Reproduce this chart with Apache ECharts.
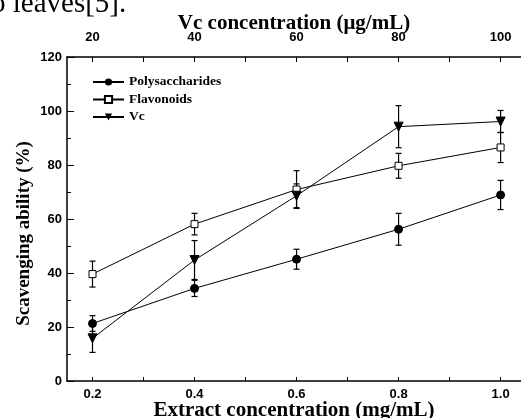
<!DOCTYPE html>
<html>
<head>
<meta charset="utf-8">
<script src="https://cdn.jsdelivr.net/npm/echarts@6/dist/echarts.min.js"></script>
<style>
html, body { margin: 0; padding: 0; background: #fff; }
#chart { width: 521px; height: 418px; }
</style>
</head>
<body>
<div id="chart"></div>
<script>
// values
var extractConc = [0.2, 0.4, 0.6, 0.8, 1.0];
var extractTicks = [0.2, 0.3, 0.4, 0.5, 0.6, 0.7, 0.8, 0.9, 1.0];
var vcConcLabels = [20, 40, 60, 80, 100];
var vcConcTicks = [20, 30, 40, 50, 60, 70, 80, 90, 100];

var polysaccharides = [21.3, 34.3, 45.1, 56.2, 68.9];
var polysaccharidesErr = [2.9, 3.0, 3.7, 5.9, 5.4];
var flavonoids = [39.6, 58.1, 70.9, 79.7, 86.5];
var flavonoidsErr = [4.8, 4.0, 7.0, 4.6, 5.6];
var vc = [15.8, 44.8, 68.6, 94.2, 96.1];
var vcErr = [5.2, 7.2, 4.4, 7.8, 4.1];

var serif = '"Liberation Serif", "Times New Roman", serif';
var sans = '"Liberation Sans", Arial, sans-serif';

function pairs(ys) {
    return extractConc.map(function (x, i) { return [x, ys[i]]; });
}
function errData(ys, es) {
    return extractConc.map(function (x, i) { return [x, ys[i], es[i]]; });
}
function errRender(params, api) {
    var x = api.value(0), y = api.value(1), e = api.value(2);
    var top = api.coord([x, y + e]);
    var bot = api.coord([x, y - e]);
    var st = { stroke: '#000', lineWidth: 1.2 };
    return {
        type: 'group',
        children: [
            { type: 'line', shape: { x1: top[0], y1: top[1], x2: bot[0], y2: bot[1] }, style: st },
            { type: 'line', shape: { x1: top[0] - 3, y1: top[1], x2: top[0] + 3, y2: top[1] }, style: st },
            { type: 'line', shape: { x1: bot[0] - 3, y1: bot[1], x2: bot[0] + 3, y2: bot[1] }, style: st }
        ]
    };
}
function errSeries(ys, es) {
    return {
        type: 'custom',
        xAxisIndex: 0,
        renderItem: errRender,
        data: errData(ys, es),
        silent: true,
        z: 1
    };
}

var myChart = echarts.init(document.getElementById('chart'));
var option = {
    animation: false,
    backgroundColor: '#fff',
    graphic: [{
        type: 'text',
        left: -9,
        top: -10,
        style: { text: 'o leaves[5].', font: '29px ' + serif, fill: '#000' }
    }],
    grid: { left: 67, right: 0, top: 57, bottom: 37, outerBoundsMode: 'none' },
    legend: {
        orient: 'vertical',
        left: 87,
        top: 70,
        itemWidth: 31,
        itemHeight: 9,
        itemGap: 3.5,
        data: ['Polysaccharides', 'Flavonoids', 'Vc'],
        textStyle: { fontFamily: serif, fontWeight: 'bold', fontSize: 13.5, color: '#000' }
    },
    xAxis: [{
        type: 'value',
        position: 'bottom',
        min: 0.15,
        max: 1.04,
        name: 'Extract concentration (mg/mL)',
        nameLocation: 'middle',
        nameGap: 19,
        nameMoveOverlap: false,
        nameTextStyle: { fontFamily: serif, fontWeight: 'bold', fontSize: 21, color: '#000' },
        axisLine: { lineStyle: { color: '#000', width: 1.5 } },
        axisTick: { inside: true, length: 4, customValues: extractTicks, lineStyle: { color: '#000' } },
        axisLabel: {
            customValues: extractConc,
            margin: 7,
            formatter: function (v) { return v.toFixed(1); },
            fontFamily: sans, fontWeight: 'bold', fontSize: 13, color: '#000'
        },
        splitLine: { show: false }
    }, {
        type: 'value',
        position: 'top',
        min: 15,
        max: 104,
        name: 'Vc concentration (μg/mL)',
        nameLocation: 'middle',
        nameGap: 23,
        nameMoveOverlap: false,
        nameTextStyle: { fontFamily: serif, fontWeight: 'bold', fontSize: 21, color: '#000' },
        axisLine: { lineStyle: { color: '#000', width: 1.5 } },
        axisTick: { inside: true, length: 5, customValues: vcConcTicks, lineStyle: { color: '#000' } },
        axisLabel: {
            customValues: vcConcLabels,
            margin: 13,
            fontFamily: sans, fontWeight: 'bold', fontSize: 13, color: '#000'
        },
        splitLine: { show: false }
    }],
    yAxis: {
        type: 'value',
        min: 0,
        max: 120,
        interval: 20,
        name: 'Scavenging ability (%)',
        nameLocation: 'middle',
        nameGap: 33,
        nameMoveOverlap: false,
        nameTextStyle: { fontFamily: serif, fontWeight: 'bold', fontSize: 19, color: '#000', padding: [0, 29, 0, 0] },
        axisLine: { show: true, lineStyle: { color: '#000', width: 1.5 } },
        axisTick: { show: true, inside: true, length: 7, lineStyle: { color: '#000' } },
        minorTick: { show: true, splitNumber: 2, length: 4, lineStyle: { color: '#000' } },
        axisLabel: { margin: 5, fontFamily: sans, fontWeight: 'bold', fontSize: 13, color: '#000' },
        splitLine: { show: false }
    },
    series: [
        errSeries(polysaccharides, polysaccharidesErr),
        errSeries(flavonoids, flavonoidsErr),
        errSeries(vc, vcErr),
        {
            name: 'Polysaccharides',
            type: 'line',
            data: pairs(polysaccharides),
            symbol: 'circle',
            symbolSize: 8,
            lineStyle: { color: '#000', width: 1 },
            itemStyle: { color: '#000', borderColor: '#000' },
            z: 3
        },
        {
            name: 'Flavonoids',
            type: 'line',
            data: pairs(flavonoids),
            symbol: 'rect',
            symbolSize: 7,
            lineStyle: { color: '#000', width: 1 },
            itemStyle: { color: '#fff', borderColor: '#000', borderWidth: 1 },
            z: 3
        },
        {
            name: 'Vc',
            type: 'line',
            data: pairs(vc),
            symbol: 'triangle',
            symbolRotate: 180,
            symbolSize: 9,
            lineStyle: { color: '#000', width: 1 },
            itemStyle: { color: '#000', borderColor: '#000' },
            z: 3
        }
    ]
};
myChart.setOption(option);
</script>
</body>
</html>
